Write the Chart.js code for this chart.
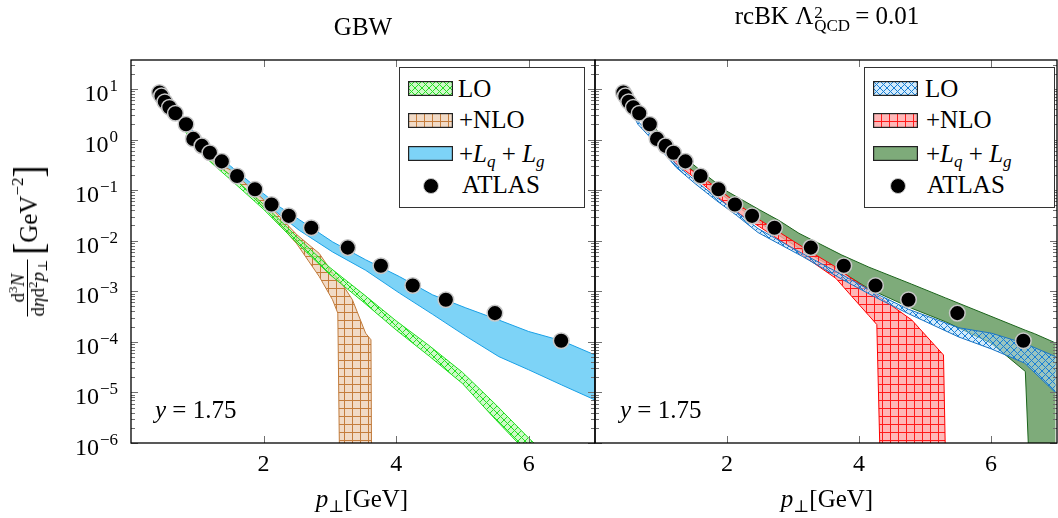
<!DOCTYPE html>
<html>
<head>
<meta charset="utf-8">
<title>pT spectra y = 1.75</title>
<script src="https://cdn.jsdelivr.net/npm/chart.js@4.4.1/dist/chart.umd.min.js"></script>
<style>
  html, body { margin: 0; padding: 0; background: #fff; }
  #page { position: relative; width: 1058px; height: 518px; overflow: hidden;
          font-family: "Liberation Serif", "DejaVu Serif", serif; color: #000; }
  #page > canvas { position: absolute; top: 0; }
  #left { left: 0; }
  #right { left: 594px; }
  .txt { position: absolute; white-space: nowrap; font-size: 25px; line-height: 25px; }
  .txt sub, .txt sup { font-size: 17px; line-height: 0; position: relative; vertical-align: baseline; }
  .txt sub { top: 5px; }
  .txt sup { top: -10px; }
  .c { transform: translateX(-50%); }
  .legend { position: absolute; top: 67px; height: 141px; box-sizing: border-box;
            border: 1px solid #333; background: #fff; }
  .legend canvas { position: absolute; left: 8px; }
  .dot { position: absolute; width: 16px; height: 16px; border-radius: 50%;
         background: #000; border: 1.5px solid #c8c8c8; box-sizing: border-box; }
  #ylab { left: 28px; top: 241px; transform: translate(-50%, -50%) rotate(-90deg);
          display: flex; align-items: center; }
  .frac { display: inline-flex; flex-direction: column; align-items: center;
          font-size: 19px; line-height: 18px; margin-right: 5px; }
  .frac .den { border-top: 1px solid #000; padding-top: 1px; }
  .frac sup { font-size: 13px; top: -7px; }
  .frac sub { font-size: 13px; top: 3px; }
  .big { font-size: 36px; display: inline-block; transform: scaleY(1.15); }
  .ss { display: inline-flex; flex-direction: column; font-size: 17px; line-height: 13px;
        vertical-align: 6px; margin: 0 5px 0 1px; }
</style>
</head>
<body>
<div id="page">
  <canvas id="left" width="596" height="518"></canvas>
  <canvas id="right" width="464" height="518"></canvas>

  <div class="txt c" style="left:363px; top:14px;">GBW</div>
  <div class="txt c" style="left:827px; top:3px;">rcBK Λ<span class="ss"><span>2</span><span>QCD</span></span>= 0.01</div>

  <div class="txt c" style="left:362px; top:486px;"><i>p</i><sub>⊥</sub>[GeV]</div>
  <div class="txt c" style="left:827px; top:486px;"><i>p</i><sub>⊥</sub>[GeV]</div>

  <div class="txt" style="left:155px; top:397px;"><i>y</i> = 1.75</div>
  <div class="txt" style="left:620px; top:397px;"><i>y</i> = 1.75</div>

  <div class="txt" id="ylab">
    <span class="frac"><span>d<sup>3</sup><i>N</i></span><span class="den">d<i>η</i>d<sup>2</sup><i>p</i><sub>⊥</sub></span></span>
    <span class="big">[</span>GeV<sup>−2</sup><span class="big">]</span>
  </div>

  <div class="legend" style="left:399px; width:186px;">
    <canvas id="swL1" width="45" height="15" style="top:13px;"></canvas>
    <canvas id="swL2" width="45" height="15" style="top:45px;"></canvas>
    <canvas id="swL3" width="45" height="15" style="top:78px;"></canvas>
    <div class="dot" style="left:23px; top:110px;"></div>
    <div class="txt" style="left:58px; top:8px;">LO</div>
    <div class="txt" style="left:59px; top:39px;">+NLO</div>
    <div class="txt" style="left:59px; top:73px;">+<i>L</i><sub><i>q</i></sub> + <i>L</i><sub><i>g</i></sub></div>
    <div class="txt" style="left:62px; top:104px;">ATLAS</div>
  </div>

  <div class="legend" style="left:864px; width:191px;">
    <canvas id="swR1" width="45" height="15" style="top:13px;"></canvas>
    <canvas id="swR2" width="45" height="15" style="top:45px;"></canvas>
    <canvas id="swR3" width="45" height="15" style="top:78px;"></canvas>
    <div class="dot" style="left:25px; top:110px;"></div>
    <div class="txt" style="left:60px; top:8px;">LO</div>
    <div class="txt" style="left:61px; top:39px;">+NLO</div>
    <div class="txt" style="left:61px; top:73px;">+<i>L</i><sub><i>q</i></sub> + <i>L</i><sub><i>g</i></sub></div>
    <div class="txt" style="left:62px; top:104px;">ATLAS</div>
  </div>
</div>

<script>
// axis ticks
const xTickLabels = [2, 4, 6];
const yTickExps = [-6, -5, -4, -3, -2, -1, 0, 1];
const below = 1e-9; // band drops off the bottom of the plot

// ATLAS data (same in both panels)
const atlasPt = [0.43, 0.46, 0.51, 0.58, 0.67, 0.83, 0.94, 1.07, 1.19, 1.37, 1.60,
  1.87, 2.12, 2.38, 2.72, 3.27, 3.77, 4.25, 4.75, 5.49, 6.49];
const atlasVal = [8.5, 7.3, 5.6, 4.35, 3.3, 2.0, 1.03, 0.75, 0.55, 0.37, 0.19,
  0.104, 0.052, 0.031, 0.018, 0.0073, 0.0032, 0.0013, 0.00068, 0.00037, 0.000105];

// GBW: LO band
const gbwLoX = [0.45, 0.6, 0.8, 1.0, 1.25, 1.5, 2.0, 2.5, 3.0, 3.5, 4.0, 4.5, 5.0, 5.5, 6.0, 6.5];
const gbwLoUp = [8.9, 4.4, 1.76, 0.72, 0.367, 0.195, 0.0525, 0.012, 0.00295, 0.00089,
  0.00026, 0.000084, 0.000025, 0.0000058, 0.00000125, 0.0000003];
const gbwLoDn = [8.1, 4.0, 1.57, 0.63, 0.313, 0.162, 0.0417, 0.0091, 0.00214, 0.00062,
  0.000172, 0.000052, 0.000015, 0.0000029, 0.0000006, 0.00000014];

// GBW: +NLO band
const gbwNloX = [1.2, 1.5, 2.0, 2.5, 2.84, 3.04, 3.12, 3.17, 3.34, 3.54, 3.62, 3.64];
const gbwNloUp = [0.42, 0.25, 0.065, 0.0132, 0.0056, 0.0023, 0.0018, 0.0015, 0.00068,
  0.000148, 0.00011, below];
const gbwNloDn = [0.37, 0.20, 0.047, 0.0087, 0.00195, 0.00068, 0.00037, below, below,
  below, below, below];

// GBW: +Lq+Lg band
const gbwFullX = [0.40, 0.6, 0.8, 1.0, 1.25, 1.5, 1.75, 2.0, 2.25, 2.54, 3.04, 3.54,
  4.05, 4.55, 5.05, 5.55, 6.0, 6.5, 7.0];
const gbwFullUp = [9.5, 5.0, 2.4, 1.15, 0.58, 0.30, 0.16, 0.085, 0.046, 0.026, 0.0095,
  0.0042, 0.00195, 0.00085, 0.00047, 0.00027, 0.00016, 0.000105, 0.000055];
const gbwFullDn = [8.0, 4.2, 1.95, 0.92, 0.45, 0.23, 0.12, 0.062, 0.032, 0.016, 0.006,
  0.0026, 0.00092, 0.00035, 0.00013, 0.000051, 0.000028, 0.000014, 0.0000071];

// rcBK: LO band
const rcLoX = [0.45, 0.65, 0.93, 1.23, 1.53, 1.84, 2.14, 2.47, 3.14, 3.75, 4.25, 4.75,
  5.51, 6.01, 6.51, 6.98];
const rcLoUp = [7.1, 2.3, 0.93, 0.32, 0.15, 0.072, 0.038, 0.0174, 0.0056, 0.0021,
  0.00091, 0.00044, 0.00019, 0.000148, 0.000093, 0.000051];
const rcLoDn = [6.3, 2.0, 0.81, 0.28, 0.13, 0.062, 0.032, 0.0145, 0.0049, 0.0017,
  0.00076, 0.00036, 0.000125, 0.000072, 0.000038, 0.0000098];

// rcBK: +NLO band
const rcNloX = [1.2, 1.58, 2.09, 2.49, 3.14, 3.65, 3.87, 4.15, 4.27, 4.37, 4.8, 5.28, 5.35];
const rcNloUp = [0.40, 0.2, 0.063, 0.026, 0.0076, 0.003, 0.00186, 0.00107, 0.00083,
  0.00068, 0.00027, 0.000055, below];
const rcNloDn = [0.355, 0.15, 0.041, 0.019, 0.0052, 0.0018, 0.00085, 0.00033, 0.00022,
  below, below, below, below];

// rcBK: +Lq+Lg band
const rcFullX = [0.45, 0.8, 1.1, 1.4, 1.7, 2.0, 2.49, 2.79, 3.09, 3.74, 4.15, 4.80,
  5.31, 6.0, 6.52, 6.66, 6.98];
const rcFullUp = [9.3, 2.5, 0.87, 0.40, 0.19, 0.095, 0.041, 0.025, 0.014, 0.0052,
  0.003, 0.00138, 0.00074, 0.00032, 0.00017, 0.000145, 0.000095];
const rcFullDn = [7.9, 1.86, 0.66, 0.30, 0.138, 0.068, 0.023, 0.0126, 0.0071, 0.0024,
  0.00112, 0.00046, 0.00025, 0.000095, 0.000026, below, below];

// hatch patterns
function hatch(bg, fg, kind) {
  const s = kind === "grid" ? 8 : 7;
  const c = document.createElement("canvas");
  c.width = s;
  c.height = s;
  const g = c.getContext("2d");
  g.fillStyle = bg;
  g.fillRect(0, 0, s, s);
  g.strokeStyle = fg;
  g.lineWidth = 1;
  g.beginPath();
  if (kind === "grid") {
    g.moveTo(0.5, 0); g.lineTo(0.5, s);
    g.moveTo(0, 0.5); g.lineTo(s, 0.5);
  } else {
    g.moveTo(0, 0); g.lineTo(s, s);
    g.moveTo(s, 0); g.lineTo(0, s);
  }
  g.stroke();
  return g.createPattern(c, "repeat");
}

const col = {
  gbwLo: { edge: "#22dd22", fill: hatch("rgba(175,245,165,0.6)", "#22e022", "cross") },
  gbwNlo: { edge: "#c07a3a", fill: hatch("rgba(238,212,188,0.85)", "#c47c3c", "grid") },
  gbwFull: { edge: "#1aa0e6", fill: "#7dd3f7" },
  rcLo: { edge: "#1a74c4", fill: hatch("rgba(175,218,250,0.55)", "#1a7fd4", "cross") },
  rcNlo: { edge: "#ff0000", fill: hatch("rgba(255,165,165,0.8)", "#ff1a1a", "grid") },
  rcFull: { edge: "#1b641b", fill: "#7eab7a" },
};

function band(x, up, dn, c, order) {
  return [
    { data: x.map((v, i) => ({ x: v, y: up[i] })), borderColor: c.edge, borderWidth: 1,
      pointRadius: 0, fill: false, order: order, clip: 0 },
    { data: x.map((v, i) => ({ x: v, y: dn[i] })), borderColor: c.edge, borderWidth: 1,
      pointRadius: 0, fill: "-1", backgroundColor: c.fill, order: order, clip: 0 },
  ];
}

function atlasSet() {
  return {
    data: atlasPt.map((v, i) => ({ x: v, y: atlasVal[i] })),
    showLine: false, pointRadius: 7.8, pointBackgroundColor: "#000",
    pointBorderColor: "#c8c8c8", pointBorderWidth: 1.5, order: 0, clip: false,
  };
}

// frame, inward ticks and tick labels
const frame = {
  id: "frame",
  afterDatasetsDraw(chart, args, opts) {
    const { ctx, chartArea: a } = chart;
    const xs = chart.scales.x;
    const ys = chart.scales.y;
    ctx.save();
    ctx.strokeStyle = "#707070";
    ctx.lineWidth = 1;
    ctx.beginPath();
    for (let e = -6; e <= 1; e++) {
      for (let k = 1; k <= 9; k++) {
        const v = k * Math.pow(10, e);
        if (v > ys.max) break;
        const py = Math.round(ys.getPixelForValue(v)) + 0.5;
        const len = k === 1 ? 7 : 4;
        ctx.moveTo(a.left, py); ctx.lineTo(a.left + len, py);
        ctx.moveTo(a.right, py); ctx.lineTo(a.right - len, py);
      }
    }
    for (const v of xTickLabels) {
      const px = Math.round(xs.getPixelForValue(v)) + 0.5;
      ctx.moveTo(px, a.bottom); ctx.lineTo(px, a.bottom - 7);
      ctx.moveTo(px, a.top); ctx.lineTo(px, a.top + 7);
    }
    ctx.stroke();
    ctx.strokeStyle = "#000";
    ctx.lineWidth = 1.3;
    ctx.strokeRect(a.left, a.top, a.right - a.left, a.bottom - a.top);

    ctx.fillStyle = "#000";
    ctx.textBaseline = "alphabetic";
    ctx.textAlign = "center";
    ctx.font = '24px "Liberation Serif"';
    for (const v of xTickLabels) {
      ctx.fillText(String(v), xs.getPixelForValue(v), a.bottom + 28);
    }
    if (opts.yLabels) {
      ctx.textAlign = "right";
      for (const e of yTickExps) {
        const py = ys.getPixelForValue(Math.pow(10, e));
        const sup = e < 0 ? "\u2212" + -e : String(e);
        ctx.font = '17px "Liberation Serif"';
        const sw = ctx.measureText(sup).width;
        ctx.fillText(sup, a.left - 13, py + 2);
        ctx.font = '24px "Liberation Serif"';
        ctx.fillText("10", a.left - 14 - sw, py + 12);
      }
    }
    ctx.restore();
  },
};

function panel(id, datasets, pad, yLabels) {
  return new Chart(document.getElementById(id), {
    type: "line",
    data: { datasets: datasets },
    options: {
      responsive: false,
      animation: false,
      layout: { padding: pad, autoPadding: false },
      elements: { line: { tension: 0 } },
      scales: {
        x: { type: "linear", min: 0, max: 7, display: false },
        y: { type: "logarithmic", min: 1e-6, max: 37.4, display: false },
      },
      plugins: {
        legend: { display: false },
        tooltip: { enabled: false },
        frame: { yLabels: yLabels },
      },
    },
    plugins: [frame],
  });
}

panel("left", [
  ...band(gbwFullX, gbwFullUp, gbwFullDn, col.gbwFull, 3),
  ...band(gbwNloX, gbwNloUp, gbwNloDn, col.gbwNlo, 2),
  ...band(gbwLoX, gbwLoUp, gbwLoDn, col.gbwLo, 1),
  atlasSet(),
], { left: 131, right: 1, top: 60, bottom: 75 }, true);

panel("right", [
  ...band(rcFullX, rcFullUp, rcFullDn, col.rcFull, 3),
  ...band(rcNloX, rcNloUp, rcNloDn, col.rcNlo, 2),
  ...band(rcLoX, rcLoUp, rcLoDn, col.rcLo, 1),
  atlasSet(),
], { left: 1, right: 1, top: 60, bottom: 75 }, false);

// legend swatches
function swatch(id, fill) {
  const c = document.getElementById(id);
  const g = c.getContext("2d");
  g.fillStyle = "#fff";
  g.fillRect(0, 0, c.width, c.height);
  g.fillStyle = fill;
  g.fillRect(0, 0, c.width, c.height);
  g.strokeStyle = "#222";
  g.lineWidth = 1.2;
  g.strokeRect(0.6, 0.6, c.width - 1.2, c.height - 1.2);
}
swatch("swL1", col.gbwLo.fill);
swatch("swL2", col.gbwNlo.fill);
swatch("swL3", col.gbwFull.fill);
swatch("swR1", col.rcLo.fill);
swatch("swR2", col.rcNlo.fill);
swatch("swR3", col.rcFull.fill);
</script>
</body>
</html>
